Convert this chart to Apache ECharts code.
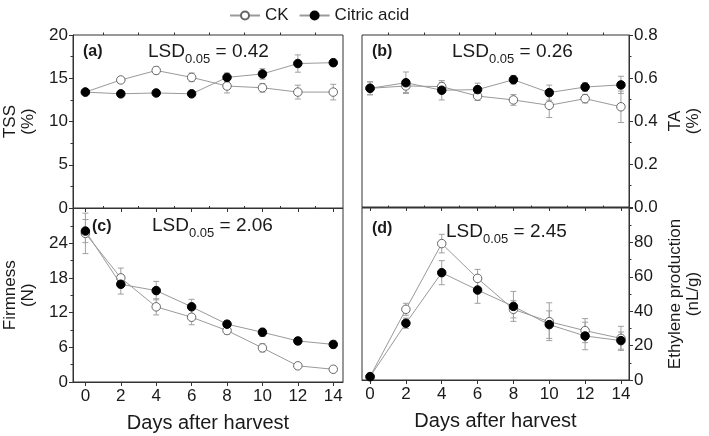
<!DOCTYPE html>
<html><head><meta charset="utf-8">
<script src="https://cdn.jsdelivr.net/npm/echarts@6/dist/echarts.min.js"></script>
<style>html,body{margin:0;padding:0;background:#fff}#c{width:709px;height:436px}</style>
</head><body><div id="c"></div>
<script>
const days = [0,2,4,6,8,10,12,14];
const xTickLabels = [0,2,4,6,8,10,12,14];
const xMinorTicks = [1,3,5,7,9,11,13];
const seriesNames = ['CK','Citric acid'];
const tssCK = [13.4,14.8,15.9,15.1,14.1,13.9,13.4,13.4];
const tssCKErr = [0.2,0.3,0.4,0.5,0.8,0.5,0.8,0.9];
const tssCA = [13.4,13.2,13.3,13.2,15.1,15.5,16.7,16.8];
const tssCAErr = [0.2,0.2,0.2,0.2,0.5,0.6,1.0,0.4];
const taCK = [0.552,0.563,0.560,0.516,0.498,0.473,0.504,0.466];
const taCKErr = [0.03,0.03,0.02,0.02,0.025,0.057,0.02,0.073];
const taCA = [0.552,0.578,0.543,0.546,0.592,0.532,0.558,0.568];
const taCAErr = [0.03,0.05,0.045,0.03,0.02,0.035,0.02,0.04];
const firmCK = [25.7,18.0,13.0,11.2,8.9,5.9,2.8,2.2];
const firmCKErr = [3.5,1.7,1.4,1.3,0.6,0.7,0.4,0.4];
const firmCA = [26.1,16.9,15.8,13.0,10.0,8.6,7.1,6.5];
const firmCAErr = [2.0,1.7,1.6,1.3,0.6,0.7,0.6,0.6];
const ethCK = [2.0,41.1,79.3,59.1,41.1,33.9,28.7,24.2];
const ethCKErr = [0.5,3.5,5.4,5.2,5.0,11.0,7.0,7.0];
const ethCA = [1.9,33.0,62.4,52.3,42.8,32.2,25.6,22.9];
const ethCAErr = [0.5,3.0,7.0,7.7,8.7,8.0,8.0,5.0];
const panelLetters = ['(a)','(b)','(c)','(d)'];
const lsdValues = ['0.42','0.26','2.06','2.45'];
const yNames = ['TSS\n(%)','TA\n(%)','Firmness\n(N)','Ethylene production\n(nL/g)'];

const FONT = 'Liberation Sans, Arial, sans-serif';
const TXT = '#1a1a1a';
const AX = '#333';
const GRAY = '#9a9a9a';

const grids = [
  {left:71, top:35, width:272, height:173},
  {left:362, top:35, width:267, height:172},
  {left:71, top:208.5, width:272, height:173.5},
  {left:362, top:208, width:267, height:172}
].map(g => Object.assign(g, {show:true, borderColor:AX, borderWidth:1, backgroundColor:'transparent'}));

function xRange(gi){ return gi%2===0 ? {min:-0.7, max:14.55} : {min:-0.45, max:14.45}; }
const xAxes = [];
for (let gi=0; gi<4; gi++){
  const showLabel = gi>=2;
  xAxes.push(Object.assign({type:'value', gridIndex:gi,
    axisLine:{show:true, onZero:false, lineStyle:{color:AX, width:1}}, splitLine:{show:false},
    axisTick:{show:true, inside:false, length:4, customValues:xTickLabels, lineStyle:{color:AX}},
    axisLabel:{show:showLabel, customValues:xTickLabels, fontSize:17, color:TXT, margin:6, fontFamily:FONT},
    name: showLabel ? 'Days after harvest' : '', nameLocation:'middle', nameGap:31,
    nameTextStyle:{fontSize:20, color:TXT, fontFamily:FONT}}, xRange(gi)));
}
for (let gi=0; gi<4; gi++){
  xAxes.push(Object.assign({type:'value', gridIndex:gi,
    axisLine:{show:false, onZero:false}, splitLine:{show:false},
    axisTick:{show:true, inside:false, length:2.5, customValues:xMinorTicks, lineStyle:{color:AX}},
    axisLabel:{show:false}}, xRange(gi)));
}
const yCfg = [
  {min:0, max:20, interval:5, pos:'left', fmt:v=>String(v), showMax:true},
  {min:0, max:0.8, interval:0.2, pos:'right', fmt:v=>v.toFixed(1), showMax:true},
  {min:0, max:30, interval:6, pos:'left', fmt:v=>String(v), showMax:false},
  {min:0, max:100, interval:20, pos:'right', fmt:v=>String(v), showMax:false}
];
const yAxes = yCfg.map((c,gi)=>({type:'value', gridIndex:gi, position:c.pos, min:c.min, max:c.max, interval:c.interval,
  axisLine:{show:true, onZero:false, lineStyle:{color:AX, width:1}}, splitLine:{show:false},
  axisTick:{show:true, inside:false, length:4, lineStyle:{color:AX}},
  minorTick:{show:true, splitNumber:2, length:2.5, lineStyle:{color:AX}},
  axisLabel:{formatter:c.fmt, fontSize:17, color:TXT, margin:5, fontFamily:FONT, showMaxLabel:c.showMax},
  name:yNames[gi], nameLocation:'middle', nameRotate:90, nameGap: gi%2===0 ? 36 : 37,
  nameTextStyle:{fontSize:17, color:TXT, fontFamily:FONT, lineHeight:18}}));

function errSeries(vals, errs, gi){
  return {type:'custom', xAxisIndex:gi, yAxisIndex:gi, z:1, silent:true, animation:false,
    data: days.map((d,i)=>[d, vals[i]-errs[i], vals[i]+errs[i]]),
    encode:{x:0, y:[1,2]},
    renderItem:(params, api)=>{
      const lo = api.coord([api.value(0), api.value(1)]);
      const hi = api.coord([api.value(0), api.value(2)]);
      const w = 3;
      const st = {stroke:'#a0a0a0', lineWidth:1, fill:null};
      return {type:'group', children:[
        {type:'line', shape:{x1:lo[0],y1:lo[1],x2:hi[0],y2:hi[1]}, style:st},
        {type:'line', shape:{x1:lo[0]-w,y1:lo[1],x2:lo[0]+w,y2:lo[1]}, style:st},
        {type:'line', shape:{x1:hi[0]-w,y1:hi[1],x2:hi[0]+w,y2:hi[1]}, style:st}]};
    }};
}
function lineSeries(name, vals, gi, filled){
  return {type:'line', name:name, xAxisIndex:gi, yAxisIndex:gi, z: filled?4:3,
    data: days.map((d,i)=>[d, vals[i]]),
    symbol:'circle', symbolSize:8.5, showSymbol:true, animation:false,
    lineStyle:{color:GRAY, width:1},
    itemStyle: filled ? {color:'#000', borderColor:'#000', borderWidth:1} : {color:'#fff', borderColor:'#666', borderWidth:1},
    emphasis:{disabled:true}};
}
const panelData = [[tssCK,tssCKErr,tssCA,tssCAErr],[taCK,taCKErr,taCA,taCAErr],[firmCK,firmCKErr,firmCA,firmCAErr],[ethCK,ethCKErr,ethCA,ethCAErr]];
const series = [];
panelData.forEach((p,gi)=>{
  series.push(errSeries(p[0],p[1],gi));
  series.push(errSeries(p[2],p[3],gi));
  series.push(lineSeries(seriesNames[0],p[0],gi,false));
  series.push(lineSeries(seriesNames[1],p[2],gi,true));
});

const letterPos = [[83,44],[372,44],[92,219],[372,221]];
const lsdPos = [[148,42],[452,42],[152,216],[446,222]];
const graphic = [];
panelLetters.forEach((t,i)=>{
  graphic.push({type:'text', left:letterPos[i][0], top:letterPos[i][1], z:10,
    style:{text:t, font:'bold 16px ' + FONT, fill:TXT}});
  graphic.push({type:'text', left:lsdPos[i][0], top:lsdPos[i][1], z:10,
    style:{text:'{m|LSD}{s|0.05}{m| = ' + lsdValues[i] + '}', fill:TXT,
      rich:{m:{fontSize:19, fontFamily:FONT, lineHeight:24, verticalAlign:'top', fill:TXT, color:TXT},
            s:{fontSize:13, fontFamily:FONT, lineHeight:12, verticalAlign:'bottom', fill:TXT, color:TXT}}}});
});

const chart = echarts.init(document.getElementById('c'), null, {renderer:'canvas'});
chart.setOption({
  backgroundColor:'#fff',
  animation:false,
  legend:{data:seriesNames, left:224, top:2, itemWidth:30, itemHeight:10, itemGap:10,
    textStyle:{fontSize:17, color:TXT, fontFamily:FONT}},
  grid:grids, xAxis:xAxes, yAxis:yAxes, series:series, graphic:graphic
});
</script></body></html>
